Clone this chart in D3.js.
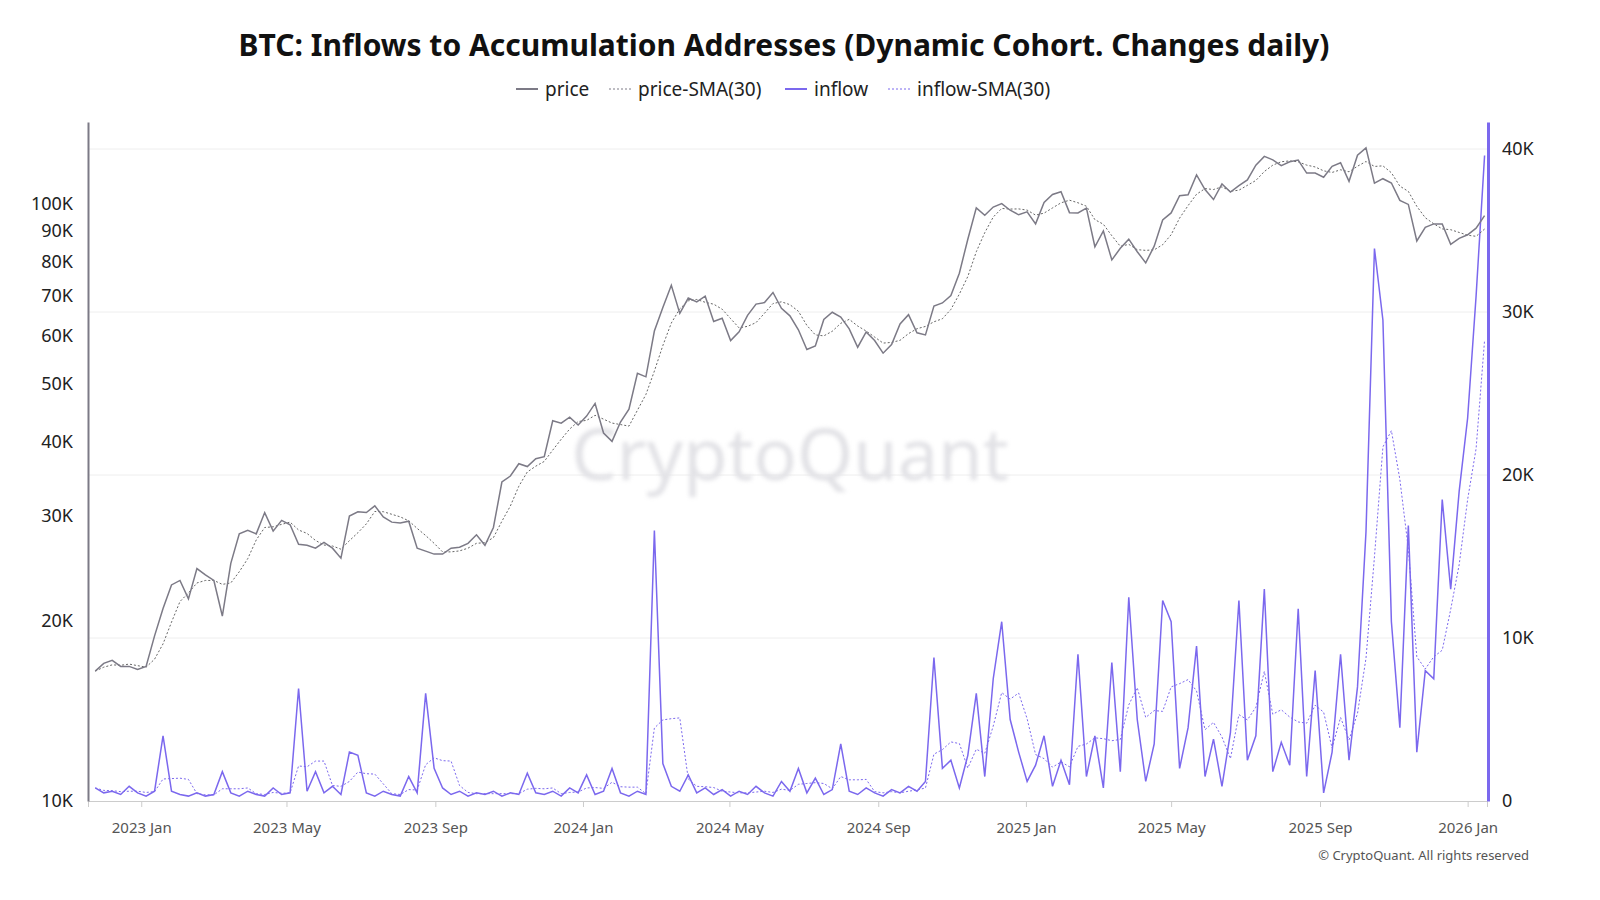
<!DOCTYPE html>
<html>
<head>
<meta charset="utf-8">
<script src="https://cdn.jsdelivr.net/npm/d3@7"></script>
<style>
  html, body { margin: 0; padding: 0; background: #fff; overflow: hidden; }
  svg { display: block; }
  text { font-family: "Noto Sans", "Open Sans", sans-serif; }
</style>
</head>
<body>
<div id="chart"></div>
<script>
// weekly samples, starting 2022-11-24
const startDate = "2022-11-24";

// BTC price (K USD)
const price = [
  16.5, 17.0, 17.2, 16.8, 16.8, 16.6,
  16.8, 18.9, 21.0, 23.0, 23.4, 21.8, 24.5, 23.9, 23.4, 20.4, 25.0, 28.0, 28.4, 28.0, 30.4, 28.3, 29.5, 29.0, 26.9, 26.8,
  26.5, 27.1, 26.5, 25.5, 30.0, 30.5, 30.4, 31.2, 29.9, 29.3, 29.2, 29.4, 26.5, 26.2, 25.9, 25.9, 26.5, 26.6, 27.0, 27.9,
  26.8, 28.7, 34.2, 35.0, 36.7, 36.3, 37.4, 37.7, 43.3, 42.9, 43.9, 42.6,
  44.1, 46.3, 41.3, 40.0, 43.1, 45.3, 52.0, 51.3, 61.2, 67.0, 73.0, 65.5, 69.5, 68.5, 70.0, 63.5, 64.3, 59.0, 61.0, 65.0,
  67.9, 68.3, 71.0, 66.8, 64.9, 61.5, 57.0, 57.8, 64.0, 65.8, 64.6, 61.7, 57.5, 61.0, 59.0, 56.2, 58.1, 62.9, 65.2, 60.8,
  60.3, 67.4, 68.2, 70.2, 76.5, 87.2, 98.4, 95.6, 98.7, 100.0, 97.5, 95.8,
  96.9, 92.5, 100.5, 103.6, 104.7, 96.6, 96.5, 98.3, 84.7, 90.0, 80.5, 84.2, 87.2, 83.1, 79.6, 84.9, 93.9, 96.5, 103.1, 103.5,
  111.7, 105.6, 101.6, 107.9, 104.6, 107.2, 109.6, 116.0, 120.0, 118.4, 115.8, 117.5, 118.3, 112.5, 112.5, 110.7, 115.5, 117.1,
  109.0, 120.5, 124.0, 108.2, 110.1, 108.3, 101.3, 99.7, 86.6, 91.3, 92.5, 92.5, 85.5, 87.5,
  88.7, 91.0, 95.5
];

// inflow (K BTC)
const inflow = [
  0.8, 0.5, 0.6, 0.4, 0.9, 0.5, 0.3, 0.6, 4.0, 0.6, 0.4, 0.3, 0.5, 0.3, 0.4, 1.8, 0.5, 0.3, 0.6, 0.4,
  0.3, 0.8, 0.4, 0.5, 6.9, 0.6, 1.8, 0.5, 0.9, 0.4, 3.0, 2.8, 0.5, 0.3, 0.6, 0.4, 0.3, 1.5, 0.5, 6.6,
  2.0, 0.8, 0.4, 0.6, 0.3, 0.5, 0.4, 0.6, 0.3, 0.5, 0.4, 1.7, 0.5, 0.4, 0.6, 0.3, 0.8, 0.5, 1.6, 0.4,
  0.6, 2.0, 0.5, 0.3, 0.6, 0.4, 16.6, 2.3, 0.9, 0.6, 1.6, 0.5, 0.8, 0.4, 0.7, 0.3, 0.6, 0.4, 0.9, 0.5,
  0.3, 1.2, 0.6, 2.0, 0.5, 1.4, 0.4, 0.7, 3.5, 0.6, 0.4, 0.8, 0.5, 0.3, 0.7, 0.5, 0.9, 0.6, 1.2, 8.8,
  2.0, 2.5, 0.8, 2.8, 6.6, 1.5, 7.5, 11.0, 5.0, 3.0, 1.2, 2.2, 4.0, 0.9, 2.5, 1.0, 9.0, 1.5, 4.0, 0.8,
  8.5, 1.8, 12.5, 5.0, 1.2, 3.5, 12.3, 11.0, 2.0, 4.5, 9.5, 1.5, 3.8, 0.9, 4.2, 12.3, 2.5, 4.0, 13.0, 1.8,
  3.6, 2.2, 11.8, 1.5, 8.0, 0.5, 3.0, 9.0, 2.5, 7.0, 16.5, 33.9, 29.5, 11.0, 4.5, 16.9, 3.0, 8.0, 7.5, 18.5,
  13.0, 19.0, 23.5, 31.0, 39.6
];

const leftTicks = [10, 20, 30, 40, 50, 60, 70, 80, 90, 100];
const rightTicks = [0, 10, 20, 30, 40];
const xTickDates = ["2023-01-01","2023-05-01","2023-09-01","2024-01-01","2024-05-01","2024-09-01","2025-01-01","2025-05-01","2025-09-01","2026-01-01"];
const legendItems = ["price", "price-SMA(30)", "inflow", "inflow-SMA(30)"];

const width = 1600, height = 900;
const margin = {top: 122, right: 110, bottom: 99, left: 88};
const innerWidth = width - margin.left - margin.right;
const innerHeight = height - margin.top - margin.bottom;

const priceColor = "#7c7a86";
const inflowColor = "#7b68ee";

const parse = d3.timeParse("%Y-%m-%d");
const t0 = parse(startDate);
const dates = price.map((d, i) => d3.timeDay.offset(t0, i * 7));

// 30-day (about 4 week) moving average
const sma = arr => arr.map((d, i) => d3.mean(arr.slice(Math.max(0, i - 3), i + 1)));
const priceSma = sma(price);
const inflowSma = sma(inflow);

const svg = d3.select("#chart").append("svg")
  .attr("width", width).attr("height", height);

// title
svg.append("text")
  .attr("x", 784).attr("y", 56)
  .attr("text-anchor", "middle")
  .style("font-size", "30px").style("font-weight", "bold").style("fill", "#111")
  .text("BTC: Inflows to Accumulation Addresses (Dynamic Cohort. Changes daily)");

// legend
const legendX = [516, 609, 785, 888];
legendItems.forEach((name, i) => {
  const g = svg.append("g").attr("transform", `translate(${legendX[i]},89)`);
  g.append("line").attr("x1", 0).attr("x2", 22).attr("y1", 0).attr("y2", 0)
    .attr("stroke", i < 2 ? priceColor : inflowColor)
    .attr("stroke-width", i % 2 ? 1 : 2)
    .attr("stroke-dasharray", i % 2 ? "2,2" : null);
  g.append("text").attr("x", 29).attr("y", 7)
    .style("font-size", "19px").style("fill", "#222").text(name);
});

const g = svg.append("g").attr("transform", `translate(${margin.left},${margin.top})`);

const xScale = d3.scaleTime()
  .domain([d3.timeDay.offset(t0, -6), d3.timeDay.offset(dates[dates.length - 1], 2)])
  .range([0, innerWidth - 3]);
const yPrice = d3.scaleLog().domain([10, 137]).range([innerHeight, 0]);
const yInflow = d3.scaleLinear().domain([0, 41.66]).range([innerHeight, 0]);

// grid
g.append("g").selectAll("line").data(rightTicks.slice(1)).join("line")
  .attr("x1", 0).attr("x2", innerWidth)
  .attr("y1", d => yInflow(d)).attr("y2", d => yInflow(d))
  .attr("stroke", "#eeeeee");

// watermark
g.append("text")
  .attr("x", 790 - margin.left).attr("y", 480 - margin.top)
  .attr("text-anchor", "middle")
  .style("font-size", "72px").style("fill", "#e2e2e6").style("filter", "blur(2px)")
  .text("CryptoQuant");

// axes
const xAxis = d3.axisBottom(xScale)
  .tickValues(xTickDates.map(parse))
  .tickSize(6)
  .tickFormat(d3.timeFormat("%Y %b"));
const xg = g.append("g").attr("transform", `translate(0,${innerHeight})`).call(xAxis);
xg.select(".domain").attr("stroke", "#ccc");
xg.selectAll(".tick line").attr("stroke", "#ccc");
xg.selectAll("text").attr("dy", "1.5em").style("font-size", "15px").style("fill", "#555");

const yl = g.append("g").call(d3.axisLeft(yPrice).tickValues(leftTicks).tickSize(0).tickFormat(d => d + "K"));
yl.select(".domain").attr("stroke", priceColor).attr("stroke-width", 2);
yl.selectAll("text").attr("x", -15).style("font-size", "18px").style("fill", "#222");

const yr = g.append("g").attr("transform", `translate(${innerWidth - 2},0)`)
  .call(d3.axisRight(yInflow).tickValues(rightTicks).tickSize(0).tickFormat(d => d ? d + "K" : "0"));
yr.select(".domain").attr("stroke", inflowColor).attr("stroke-width", 3);
yr.selectAll("text").attr("x", 14).style("font-size", "18px").style("fill", "#222");

// lines
const inflowLine = d3.line().x((d, i) => xScale(dates[i])).y(d => yInflow(d));
const priceLine = d3.line().x((d, i) => xScale(dates[i])).y(d => yPrice(d));

g.append("path").attr("d", inflowLine(inflow))
  .attr("fill", "none").attr("stroke", inflowColor).attr("stroke-width", 1.5);
g.append("path").attr("d", inflowLine(inflowSma))
  .attr("fill", "none").attr("stroke", inflowColor).attr("stroke-width", 1)
  .attr("stroke-dasharray", "2,2");
g.append("path").attr("d", priceLine(priceSma))
  .attr("fill", "none").attr("stroke", "#666").attr("stroke-width", 1)
  .attr("stroke-dasharray", "2,2");
g.append("path").attr("d", priceLine(price))
  .attr("fill", "none").attr("stroke", priceColor).attr("stroke-width", 1.5);

// copyright
svg.append("text")
  .attr("x", 1529).attr("y", 860).attr("text-anchor", "end")
  .style("font-size", "13px").style("fill", "#555")
  .text("© CryptoQuant. All rights reserved");
</script>
</body>
</html>
